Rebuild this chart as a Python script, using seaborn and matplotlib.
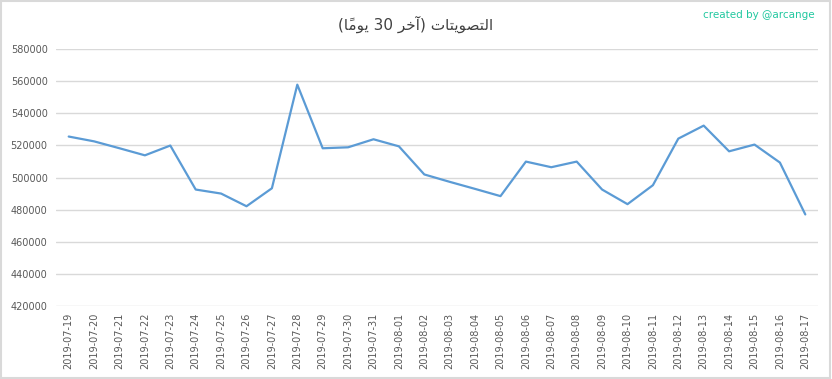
import matplotlib
matplotlib.use("Agg")
import matplotlib.pyplot as plt
import seaborn as sns
import pandas as pd
from matplotlib.patches import Rectangle

dates = ["2019-07-19", "2019-07-20", "2019-07-21", "2019-07-22", "2019-07-23",
         "2019-07-24", "2019-07-25", "2019-07-26", "2019-07-27", "2019-07-28",
         "2019-07-29", "2019-07-30", "2019-07-31", "2019-08-01", "2019-08-02",
         "2019-08-03", "2019-08-04", "2019-08-05", "2019-08-06", "2019-08-07",
         "2019-08-08", "2019-08-09", "2019-08-10", "2019-08-11", "2019-08-12",
         "2019-08-13", "2019-08-14", "2019-08-15", "2019-08-16", "2019-08-17"]
votes = [525500, 522500, 518200, 513800, 519900,
         492500, 490000, 482100, 493300, 557800,
         518200, 518800, 523800, 519400, 501900,
         497300, 492900, 488400, 509900, 506400,
         509900, 492500, 483400, 495200, 524200,
         532300, 516300, 520500, 509300, 477000]
y_ticks = [420000, 440000, 460000, 480000, 500000, 520000, 540000, 560000, 580000]

# Title (logical: "التصويتات (آخر 30 يومًا)") written in visual order with shaped forms
title_text = "(\uFE8E\u064B\uFEE3\uFEEE\uFEF3 30 \uFEAE\uFEA7\uFE81) \uFE95\uFE8E\uFE98\uFEF3\uFEEE\uFEBC\uFE98\uFEDF\uFE8D"
credit_text = "created by @arcange"

df = pd.DataFrame({"date": dates, "votes": votes})

sns.set_theme(style="white")
plt.rcParams['font.family'] = ['DejaVu Sans']

fig = plt.figure(figsize=(8.32, 3.79), dpi=100)
ax = fig.add_axes([56 / 832, 1 - 306 / 379, (818 - 56) / 832, (306 - 49) / 379])

sns.lineplot(data=df, x="date", y="votes", ax=ax, color="#5B9BD5", linewidth=1.6, sort=False)

ax.set_ylim(420000, 580000)
ax.set_yticks(y_ticks)
ax.set_yticklabels([str(v) for v in y_ticks])
ax.set_xlim(-0.5, len(dates) - 0.5)
ax.set_xticks(range(len(dates)))
ax.set_xticklabels(dates, rotation=90)
ax.yaxis.grid(True, color="#D9D9D9", linewidth=1.0)
ax.xaxis.grid(False)
ax.set_axisbelow(True)
for s in ax.spines.values():
    s.set_visible(False)
ax.tick_params(axis="both", length=0, labelsize=7, colors="#595959", pad=6)
ax.tick_params(axis="x", pad=5)
ax.set_xlabel("")
ax.set_ylabel("")

fig.text(0.5, 1 - 24 / 379, title_text, ha="center", va="center", fontsize=11,
         color="#404040", family=["DejaVu Sans"])
fig.text(815 / 832, 1 - 15 / 379, credit_text, ha="right", va="center", fontsize=7.5,
         color="#22C8A0")

fig.patches.append(Rectangle((0.001, 0.002), 0.997, 0.995, transform=fig.transFigure,
                             fill=False, edgecolor="#D9D9D9", linewidth=1.5))

fig.savefig("out.png", dpi=100, facecolor="white")
